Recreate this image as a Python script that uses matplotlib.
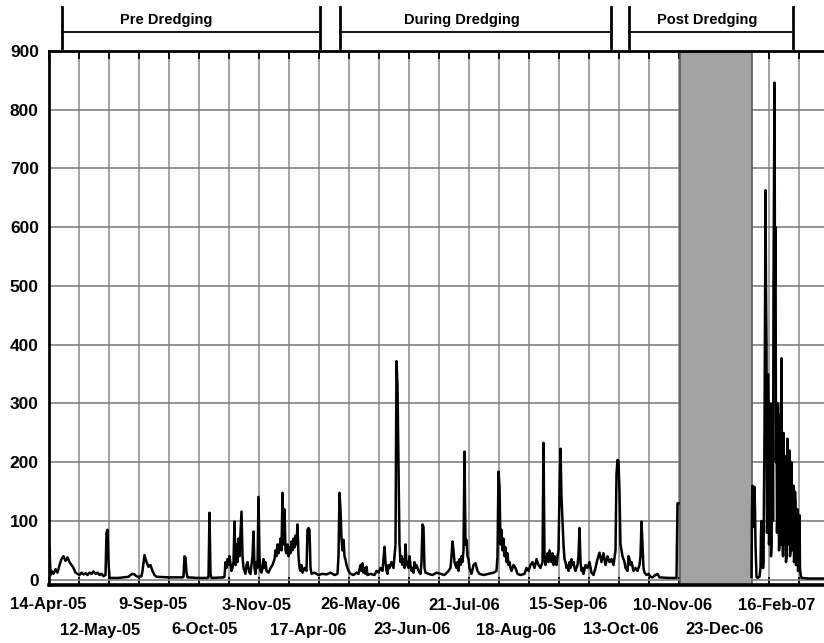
import matplotlib
matplotlib.use('Agg')
import matplotlib.pyplot as plt
import matplotlib.transforms as mtrans

plt.rcParams['font.family'] = ['Liberation Sans', 'DejaVu Sans']

# ---------------- data (sample index, TSS value) ----------------
date_labels = ['14-Apr-05', '12-May-05', '9-Sep-05', '6-Oct-05', '3-Nov-05',
               '17-Apr-06', '26-May-06', '23-Jun-06', '21-Jul-06', '18-Aug-06',
               '15-Sep-06', '13-Oct-06', '10-Nov-06', '23-Dec-06', '16-Feb-07']
label_step = 52
grid_step = 30
n_samples = 775.5
y_ticks = [0, 100, 200, 300, 400, 500, 600, 700, 800, 900]

pre_points = [(0, 5), (1, 55), (2, 8), (3, 15), (5, 10), (7, 18), (9, 12), (11, 25), (13, 35),
              (15, 40), (17, 32), (19, 38), (21, 30), (23, 25), (25, 20), (27, 12), (29, 10),
              (31, 8), (33, 12), (35, 9), (37, 11), (39, 8), (41, 12), (43, 10), (45, 14),
              (47, 10), (49, 12), (51, 8), (53, 10), (55, 6), (57, 8), (58, 80), (59, 85),
              (60, 30), (61, 3), (70, 3), (80, 5), (82, 8), (84, 10), (86, 9), (88, 6), (90, 5),
              (93, 6), (94, 15), (96, 42), (98, 30), (100, 22), (102, 25), (104, 15), (106, 8),
              (108, 5), (120, 4), (134, 4), (135, 5), (136, 40), (137, 38), (138, 12), (139, 4),
              (150, 3), (159, 3), (160, 4), (161, 114), (162, 10), (163, 3), (175, 4), (176, 5),
              (177, 30), (178, 20), (179, 35), (180, 25), (181, 40), (182, 28), (183, 15),
              (184, 20), (185, 30), (186, 99), (187, 25), (188, 60), (189, 30), (190, 70),
              (191, 40), (192, 80), (193, 116), (194, 40), (195, 20), (196, 15), (197, 10),
              (198, 25), (199, 30), (200, 20), (201, 12), (202, 10), (203, 25), (204, 40),
              (205, 82), (206, 20), (207, 10), (208, 30), (209, 20), (210, 141), (211, 40),
              (212, 15), (213, 12), (214, 20), (215, 35), (216, 20), (217, 30), (218, 15),
              (220, 12), (222, 20), (224, 25), (226, 35), (227, 50), (228, 40), (229, 60),
              (230, 45), (231, 55), (232, 70), (233, 50), (234, 148), (235, 60), (236, 120),
              (237, 50), (238, 45), (239, 60), (240, 40), (241, 55), (242, 45), (243, 65),
              (244, 50), (245, 70), (246, 55), (247, 75), (248, 60), (249, 94), (250, 40),
              (251, 20), (252, 15), (253, 25), (254, 12), (256, 20), (258, 15), (259, 85),
              (260, 88), (261, 85), (262, 20), (263, 10), (266, 12), (270, 8)]

during_points = [(274, 10), (278, 9), (282, 12), (286, 8), (289, 10), (290, 40), (291, 148),
                 (292, 120), (293, 70), (294, 50), (295, 68), (296, 40), (297, 34), (298, 25),
                 (299, 20), (300, 15), (302, 10), (305, 8), (308, 12), (310, 10), (312, 25),
                 (313, 15), (314, 28), (315, 12), (316, 20), (317, 10), (318, 22), (319, 8),
                 (322, 10), (326, 8), (328, 15), (330, 12), (332, 20), (334, 15), (336, 56),
                 (337, 30), (338, 15), (339, 10), (340, 25), (341, 20), (343, 30), (345, 20),
                 (347, 60), (348, 372), (349, 330), (350, 200), (351, 60), (352, 30), (353, 40),
                 (354, 25), (355, 35), (356, 20), (357, 60), (358, 25), (359, 30), (360, 20),
                 (361, 40), (362, 25), (363, 15), (364, 20), (365, 12), (366, 30), (367, 20),
                 (368, 25), (370, 15), (372, 10), (373, 30), (374, 94), (375, 90), (376, 20),
                 (377, 12), (380, 10), (384, 8), (388, 12), (392, 10), (396, 8), (400, 15),
                 (402, 20), (403, 40), (404, 65), (405, 50), (406, 30), (407, 25), (408, 20),
                 (409, 30), (410, 15), (411, 35), (412, 25), (413, 40), (414, 30), (415, 50),
                 (416, 218), (417, 60), (418, 68), (419, 40), (420, 35), (421, 20), (422, 15),
                 (423, 10), (425, 25), (427, 28), (429, 15), (431, 10), (435, 8), (440, 10),
                 (445, 12), (448, 15), (449, 40), (450, 184), (451, 160), (452, 60), (453, 85),
                 (454, 50), (455, 70), (456, 40), (457, 55), (458, 30), (459, 45), (460, 25),
                 (461, 30), (462, 20), (463, 15), (465, 25), (467, 20), (469, 10), (472, 8),
                 (476, 10), (478, 20), (480, 15), (482, 25), (484, 30), (486, 20), (488, 35),
                 (490, 25), (492, 20), (494, 30), (495, 233), (496, 40), (497, 25), (498, 35),
                 (499, 45), (500, 30), (501, 50), (502, 40), (503, 30), (504, 45), (505, 25),
                 (506, 40), (507, 30), (508, 25), (509, 40), (510, 50), (511, 148), (512, 223),
                 (513, 140), (514, 100), (515, 60), (516, 35), (517, 30), (518, 20), (519, 25),
                 (520, 15), (521, 30), (522, 20), (523, 35), (524, 25), (525, 30), (526, 20),
                 (527, 15), (529, 25), (530, 40), (531, 88), (532, 30), (533, 15), (534, 20),
                 (535, 10), (537, 25), (539, 20), (541, 30), (543, 12), (545, 8), (547, 20),
                 (549, 35), (551, 46), (553, 30), (555, 45), (557, 25), (559, 40), (561, 30),
                 (563, 35), (565, 25), (567, 50), (568, 180), (569, 204), (570, 202), (571, 150),
                 (572, 60), (573, 50), (574, 40), (575, 35), (576, 30), (577, 20), (579, 15)]

post_points_a = [(580, 40), (581, 35), (582, 25), (583, 30), (585, 15), (587, 20), (589, 15),
                 (591, 25), (592, 40), (593, 99), (594, 60), (595, 20), (596, 12), (598, 8),
                 (600, 10), (602, 5), (604, 4), (607, 8), (609, 10), (611, 4), (620, 3),
                 (628, 3), (629, 130), (630, 130)]

post_points_b = [(703, 5), (703.5, 120), (704, 160), (704.5, 90), (705, 150), (705.5, 100),
                 (706, 158), (706.5, 120), (707, 60), (708, 5), (709, 3), (711, 5), (712, 20),
                 (712.5, 80), (713, 100), (713.5, 40), (714, 90), (714.5, 20), (715, 30),
                 (715.5, 150), (716, 250), (716.5, 450), (717, 663), (717.5, 500), (718, 400),
                 (718.5, 80), (719, 120), (719.5, 350), (720, 280), (720.5, 60), (721, 80),
                 (721.5, 300), (722, 220), (722.5, 40), (723, 60), (723.5, 250), (724, 300),
                 (724.5, 100), (725, 500), (726, 846), (726.5, 500), (727, 600), (727.5, 200),
                 (728, 300), (728.5, 80), (729, 120), (729.5, 300), (730, 250), (730.5, 50),
                 (731, 60), (731.5, 280), (732, 200), (732.5, 60), (733, 377), (733.5, 100),
                 (734, 150), (734.5, 40), (735, 250), (735.5, 90), (736, 60), (736.5, 210),
                 (737, 180), (737.5, 30), (738, 40), (738.5, 200), (739, 240), (739.5, 60),
                 (740, 80), (740.5, 180), (741, 220), (741.5, 40), (742, 50), (742.5, 170),
                 (743, 200), (743.5, 50), (744, 60), (744.5, 140), (745, 160), (745.5, 30),
                 (746, 40), (746.5, 150), (747, 130), (747.5, 25), (748, 30), (748.5, 110),
                 (749, 120), (749.5, 15), (750, 20), (750.5, 100), (751, 110), (751.5, 20),
                 (752, 10), (753, 3), (760, 2), (775, 2)]

gap_start, gap_end = 631, 703

phase_names = ['Pre Dredging', 'During Dredging', 'Post Dredging']
phase_start = [13.5, 291.5, 580.5]
phase_end = [271.5, 562.5, 744.5]
phase_label_x = [117.5, 413, 659]

# ---------------- figure ----------------
fig = plt.figure(figsize=(8.24, 6.43), dpi=100)
ax = fig.add_axes([48.5 / 824, 58 / 643, 775.5 / 824, 534 / 643])
ax.set_xlim(0, n_samples)
ax.set_ylim(-9, 900)

ax.axvspan(gap_start, gap_end, facecolor='#a2a2a2', edgecolor='#5a5a5a', lw=1.2, zorder=1)

main_points = pre_points + during_points + post_points_a
mx, my = zip(*main_points)
ax.plot(mx, my, color='black', lw=1.8, zorder=3)
bx, by = zip(*post_points_b)
ax.plot(bx, by, color='black', lw=1.8, zorder=3)

# grid
ax.set_axisbelow(True)
ax.set_yticks(y_ticks)
ax.set_yticklabels([str(v) for v in y_ticks], fontsize=12.5, fontweight='bold')
ax.xaxis.remove_overlapping_locs = False
ax.set_xticks(list(range(0, int(n_samples) + 1, grid_step)), minor=True)
label_pos = [i * label_step for i in range(len(date_labels))]
ax.set_xticks(label_pos)
ax.set_xticklabels(date_labels, fontsize=12, fontweight='bold')
ax.grid(which='major', axis='y', color='#808080', lw=1.2)
ax.grid(which='minor', axis='x', color='#8a8a8a', lw=1.1)
ax.grid(which='major', axis='x', visible=False)

ax.tick_params(axis='x', which='minor', direction='in', length=6, width=1.3,
               color='black', top=True, bottom=True)
ax.tick_params(axis='x', which='major', length=0)
ax.tick_params(axis='y', which='major', length=0, pad=7)
for i, t in enumerate(ax.xaxis.get_major_ticks()):
    t.set_pad(9 if i % 2 == 0 else 27)

for side in ['left', 'top']:
    ax.spines[side].set_linewidth(2.0)
ax.spines['bottom'].set_linewidth(2.6)
ax.spines['right'].set_visible(False)

# phase brackets
trans = mtrans.blended_transform_factory(ax.transData, ax.transAxes)
y_line = (643 - 32 - 58) / 534
y_lo = (643 - 48 - 58) / 534
y_hi = (643 - 7 - 58) / 534
y_txt = (643 - 20 - 58) / 534
for name, s, e, lx in zip(phase_names, phase_start, phase_end, phase_label_x):
    ax.plot([s, e], [y_line, y_line], transform=trans, color='black', lw=1.3, clip_on=False)
    for xx in (s, e):
        ax.plot([xx, xx], [y_lo, y_hi], transform=trans, color='black', lw=2.0, clip_on=False)
    ax.text(lx, y_txt, name, transform=trans, ha='center', va='center', fontsize=10.5,
            fontweight='bold')

fig.savefig('out.png', dpi=100)
